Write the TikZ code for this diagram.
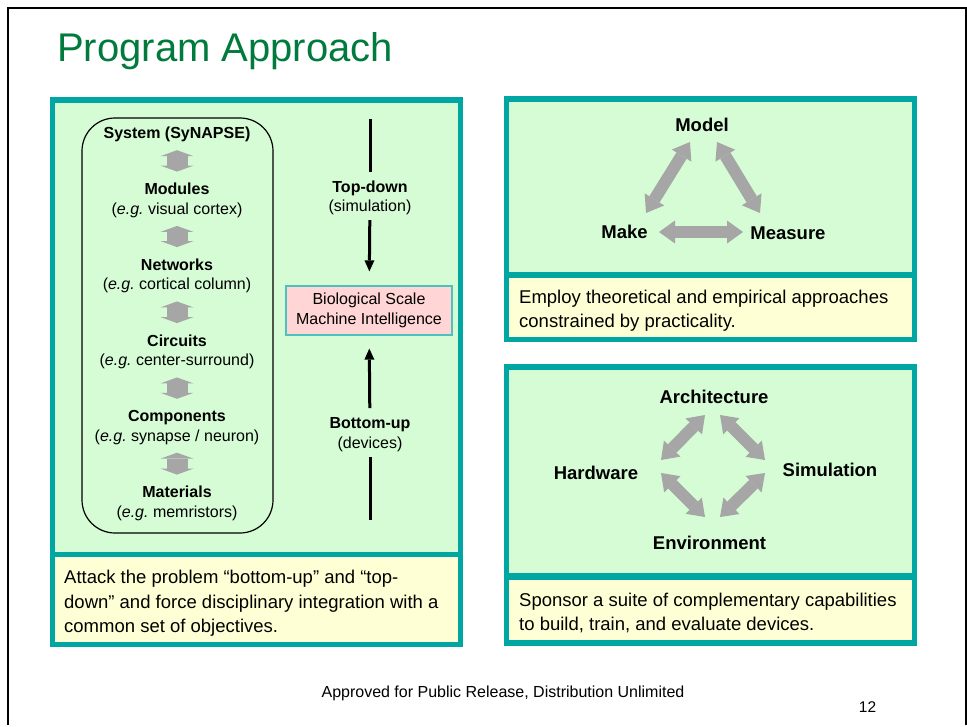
\documentclass[tikz,border=0pt]{standalone}
\usepackage{fontspec}
\setmainfont{Liberation Sans}
\usetikzlibrary{positioning,arrows.meta}

\definecolor{frameteal}{RGB}{0,166,162}
\definecolor{boxgreen}{RGB}{213,252,213}
\definecolor{boxyellow}{RGB}{255,255,213}
\definecolor{titlegreen}{RGB}{0,122,61}
\definecolor{arrowgrey}{RGB}{166,166,166}
\definecolor{bioPink}{RGB}{255,213,213}

\newcommand{\egtext}{\textit{e.g.}\ }

\begin{document}
\begin{tikzpicture}[x = 1pt, y = -1pt,
  every node/.style = {inner sep = 0pt},
  level/.style = {align = center, font = \fontsize{16}{19.5}\selectfont},
  cycle/.style = {font = \fontsize{18.5}{22}\selectfont\bfseries},
  note/.style = {align = left, anchor = north west, font = \fontsize{18.5}{24.6}\selectfont},
  levelarrow/.style = {arrowgrey, line width = 21pt, shorten < = 8pt, shorten > = 11.5pt,
    arrows = {Triangle[width = 33pt, length = 6pt, line width = 0pt]-Triangle[width = 33pt, length = 6pt, line width = 0pt]}},
  cyclearrow/.style = {arrowgrey, line width = 12pt,
    arrows = {Triangle[width = 23pt, length = 16pt, line width = 0pt]-Triangle[width = 23pt, length = 16pt, line width = 0pt]}},
  flowline/.style = {line width = 3pt},
  flowarrow/.style = {line width = 3pt, arrows = {-Triangle[width = 10pt, length = 11pt, line width = 0pt]}}
]
\fill[white] (0,0) rectangle (967,725);
\draw[line width = 2pt] (7.5,725) -- (7.5,7.5) -- (965.5,7.5) -- (965.5,725);

\node[anchor = base west, font = \fontsize{40}{48}\selectfont, text = titlegreen] (title) at (57,61) {Program Approach};

% panels
\fill[frameteal] (50,97) rectangle (463,647);
\fill[boxgreen] (55,103) rectangle (458,552);
\fill[boxyellow] (55,557) rectangle (458,642);

\fill[frameteal] (504,96) rectangle (917,342);
\fill[boxgreen] (509,102) rectangle (912,272);
\fill[boxyellow] (509,278) rectangle (912,337);

\fill[frameteal] (504,364) rectangle (917,646);
\fill[boxgreen] (509,370) rectangle (912,573);
\fill[boxyellow] (509,580) rectangle (912,640);

% levels
\draw[line width = 1.2pt, rounded corners = 33pt] (82,118) rectangle (273,533);
\node[level] (sys) at (177,134.5) {\textbf{System (SyNAPSE)}};
\node[level] (mod) at (177,200.5) {\textbf{Modules}\\(\egtext visual cortex)};
\node[level] (net) at (177,276) {\textbf{Networks}\\(\egtext cortical column)};
\node[level] (circ) at (177,352) {\textbf{Circuits}\\(\egtext center-surround)};
\node[level] (comp) at (177,427.5) {\textbf{Components}\\(\egtext synapse / neuron)};
\node[level] (mat) at (177,503.5) {\textbf{Materials}\\(\egtext memristors)};

\draw[levelarrow] (sys) -- (mod);
\draw[levelarrow] (mod) -- (net);
\draw[levelarrow] (net) -- (circ);
\draw[levelarrow] (circ) -- (comp);
\draw[levelarrow] (comp) -- (mat);

% top-down / bottom-up
\coordinate (tdstart) at (370,119);
\node[level] (td) at (370,197.8) {\textbf{Top-down}\\(simulation)};
\node[level, draw = frameteal!70, line width = 1.2pt, fill = bioPink, minimum width = 166pt, minimum height = 49pt] (bio) at (369,310.5) {Biological Scale\\Machine Intelligence};
\node[level] (bu) at (370,434.8) {\textbf{Bottom-up}\\(devices)};
\coordinate (buend) at (370,520);

\draw[flowline, shorten > = 8.5pt] (tdstart) -- (td);
\draw[flowarrow, shorten < = 5pt, shorten > = 14pt] (td) -- (bio);
\draw[flowarrow, shorten < = 9.5pt, shorten > = 13pt] (bu) -- (bio);
\draw[flowline, shorten < = 5pt] (bu) -- (buend);

% model / make / measure
\node[cycle] (model) at (702,125) {Model};
\node[cycle] (make) at (624.5,232) {Make};
\node[cycle] (measure) at (788,233) {Measure};
\coordinate (mk1) at (646,213);
\coordinate (mo1) at (690,142);
\coordinate (mo2) at (717,142);
\coordinate (me1) at (760,213);
\coordinate (mk2) at (659,232);
\coordinate (me2) at (743,232);
\draw[cyclearrow] (mk1) -- (mo1);
\draw[cyclearrow] (mo2) -- (me1);
\draw[cyclearrow] (mk2) -- (me2);

% architecture / simulation / environment / hardware
\node[cycle] (arch) at (714,397) {Architecture};
\node[cycle] (hw) at (596,473) {Hardware};
\node[cycle] (sim) at (830,470) {Simulation};
\node[cycle] (env) at (709.5,543) {Environment};
\coordinate (ar1) at (705,415);
\coordinate (hw1) at (661,460);
\coordinate (ar2) at (720,415);
\coordinate (si1) at (765,460);
\coordinate (hw2) at (661,473);
\coordinate (en1) at (705,517);
\coordinate (si2) at (765,473);
\coordinate (en2) at (720,517);
\draw[cyclearrow] (ar1) -- (hw1);
\draw[cyclearrow] (ar2) -- (si1);
\draw[cyclearrow] (hw2) -- (en1);
\draw[cyclearrow] (si2) -- (en2);

% notes
\node[note] (leftnote) at (64,570) {Attack the problem “bottom-up” and “top-\\down” and force disciplinary integration with a\\common set of objectives.};
\node[note] (modelnote) at (519,289.5) {Employ theoretical and empirical approaches\\constrained by practicality.};
\node[note] (suitenote) at (519,592.5) {Sponsor a suite of complementary capabilities\\to build, train, and evaluate devices.};

\node[anchor = base, font = \fontsize{16}{19}\selectfont] (release) at (503,697) {Approved for Public Release, Distribution Unlimited};
\node[anchor = base, font = \fontsize{15.5}{18}\selectfont] (pagenum) at (867.5,712) {12};
\end{tikzpicture}
\end{document}
